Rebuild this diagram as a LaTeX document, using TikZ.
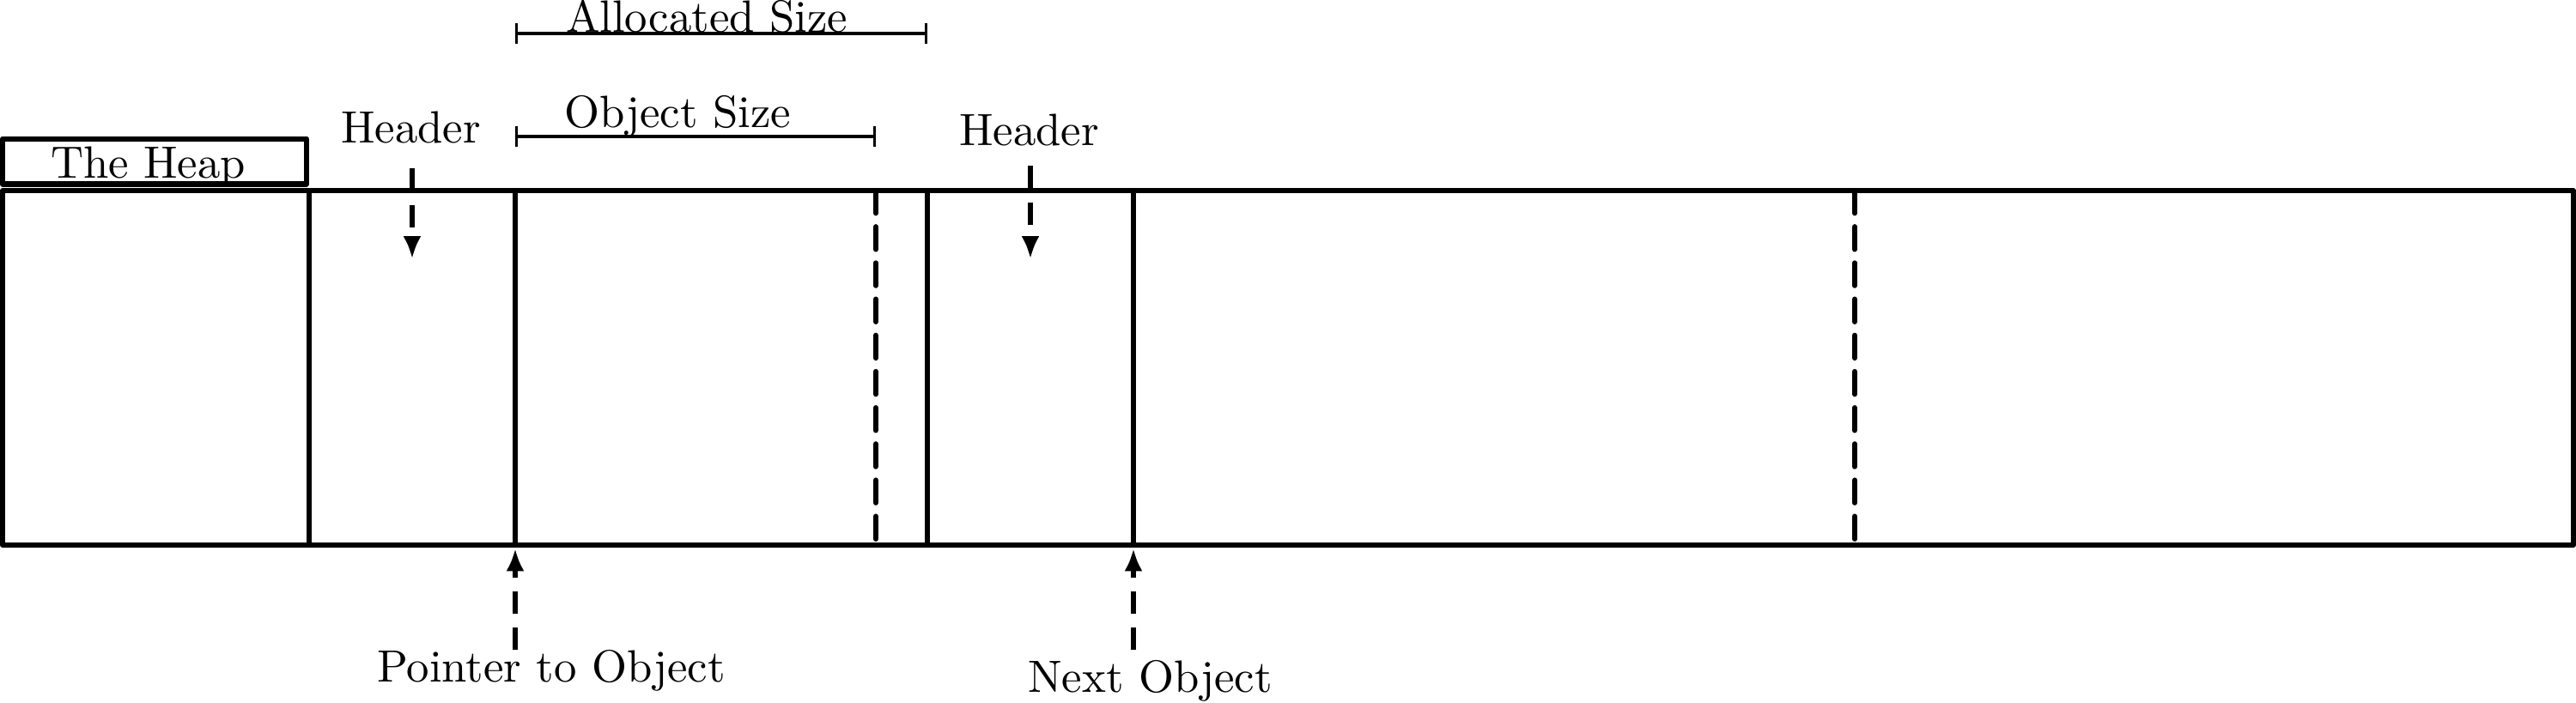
\documentclass[tikz,border=0pt]{standalone}
\usepackage{tkz-euclide}
\usetikzlibrary{arrows.meta,calc}
\tikzset{
  cutline/.style={line width=1.15pt,dash pattern=on 5pt off 3pt},
  ptrline/.style={line width=1.1pt,dash pattern=on 5pt off 3pt,-{Latex[length=5pt,width=4pt]}},
  sizeline/.style={line width=0.6pt,{Bar[width=4.5pt]}-{Bar[width=4.5pt]}}
}

\begin{document}
\begin{tikzpicture}
\useasboundingbox (0,0) rectangle (20,5.46);
\tkzSetUpLine[line width=1.15pt,color=black]

\tkzDefPoints{0.02/1.227/M0,19.98/1.227/M1,19.98/3.98/M2,0.02/3.98/M3}
\tkzDefPoints{0.02/4.03/K0,2.38/4.03/K1,2.38/4.383/K2,0.02/4.383/K3}
\tkzDefPoints{2.4/1.227/A0,2.4/3.98/A1,4.0/1.227/B0,4.0/3.98/B1,7.2/1.227/C0,7.2/3.98/C1,8.8/1.227/D0,8.8/3.98/D1}
\tkzDefPoints{6.8/1.227/E0,6.8/3.98/E1,14.4/1.227/F0,14.4/3.98/F1}
\tkzDefPoints{4.0/4.4/O0,6.8/4.4/O1,4.0/5.2/S0,7.2/5.2/S1}
\tkzDefPoints{3.2/4.15/H0,3.2/3.45/H1,8.0/4.17/G0,8.0/3.45/G1}
\tkzDefPoints{4.0/0.41/P0,4.0/1.2/P1,8.8/0.41/N0,8.8/1.2/N1}

\tkzDrawPolygon(M0,M1,M2,M3)
\tkzDrawPolygon(K0,K1,K2,K3)
\tkzDrawSegments(A0,A1 B0,B1 C0,C1 D0,D1)
\tkzDrawSegments[cutline](E1,E0 F1,F0)

\node (heap) at (1.15,4.165) {The Heap};

\node[anchor=base] (head1) at (3.19,4.347) {Header};
\node[anchor=base] (head2) at (7.99,4.327) {Header};
\node[anchor=base] (osize) at (5.263,4.473) {Object Size};
\node[anchor=base] (asize) at (5.487,5.213) {Allocated Size};
\node[anchor=base] (ptr) at (4.28,0.16) {Pointer to Object};
\node[anchor=base] (next) at (8.93,0.08) {Next Object};

\draw[sizeline] (O0) -- (O1);
\draw[sizeline] (S0) -- (S1);

\draw[ptrline] (H0) -- (H1);
\draw[ptrline] (G0) -- (G1);
\draw[ptrline] (P0) -- (P1);
\draw[ptrline] (N0) -- (N1);

\end{tikzpicture}
\end{document}
